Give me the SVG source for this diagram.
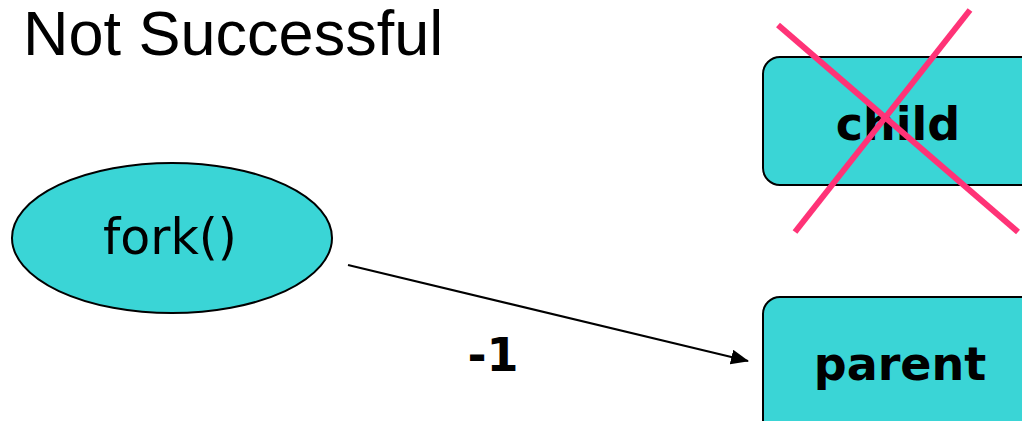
<svg xmlns="http://www.w3.org/2000/svg" width="1022" height="421" viewBox="0 0 1022 421">
<style>
.node{fill:#3AD5D6;stroke:#000;stroke-width:2}
.lbl{font-family:"DejaVu Sans",sans-serif;font-weight:bold;font-size:46px;fill:#000;text-anchor:middle}
.cross{stroke:#FF3377;stroke-width:6}
</style>
<defs>
<marker id="arr" markerWidth="18" markerHeight="15" refX="17" refY="7.5" orient="auto" markerUnits="userSpaceOnUse">
<path d="M0,0 L18,7.5 L0,15 Z" fill="#000"/>
</marker>
</defs>
<rect width="1022" height="421" fill="#fff"/>
<text x="23" y="55" font-family="Liberation Sans,Arial,sans-serif" font-size="63" fill="#000">Not Successful</text>
<g id="fork">
<ellipse class="node" cx="172" cy="238" rx="160" ry="75"/>
<text x="170" y="254" font-family="DejaVu Sans,sans-serif" font-size="49" text-anchor="middle" fill="#000">fork()</text>
</g>
<g id="child">
<rect class="node" x="763" y="57" width="275" height="128" rx="17"/>
<text class="lbl" x="898" y="140">child</text>
<line class="cross" x1="778" y1="25" x2="1018" y2="232"/>
<line class="cross" x1="970" y1="10" x2="795" y2="232"/>
</g>
<g id="parent">
<rect class="node" x="763" y="297" width="275" height="140" rx="17"/>
<text class="lbl" x="900" y="380">parent</text>
</g>
<g id="connectors">
<line x1="348" y1="265" x2="748" y2="361" stroke="#000" stroke-width="2" marker-end="url(#arr)"/>
<text x="493" y="371" font-family="DejaVu Sans,sans-serif" font-weight="bold" font-size="46" text-anchor="middle" fill="#000">-1</text>
</g>
</svg>
